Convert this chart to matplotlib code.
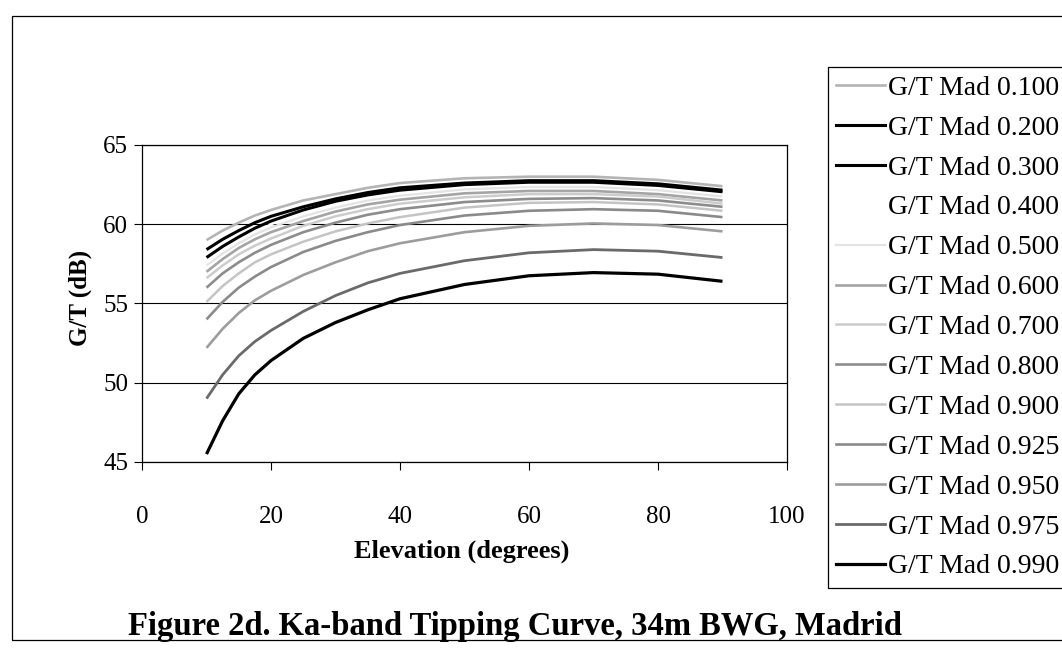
import matplotlib
matplotlib.use("Agg")
import matplotlib.pyplot as plt
from matplotlib.patches import Rectangle
from matplotlib.lines import Line2D

# elevation (degrees) at which values were read
elevation = [10, 12.5, 15, 17.5, 20, 25, 30, 35, 40, 50, 60, 70, 80, 90]

# G/T (dB) curves, one per percentile
gt_0100 = [59.0, 59.6, 60.1, 60.55, 60.9, 61.5, 61.9, 62.3, 62.6, 62.9, 63.0, 63.0, 62.8, 62.4]
gt_0200 = [58.4, 59.05, 59.6, 60.1, 60.5, 61.1, 61.6, 62.0, 62.3, 62.6, 62.75, 62.75, 62.55, 62.15]
gt_0300 = [57.9, 58.6, 59.2, 59.75, 60.2, 60.9, 61.45, 61.85, 62.15, 62.5, 62.65, 62.65, 62.45, 62.05]
gt_0400 = [57.65, 58.4, 59.0, 59.55, 60.0, 60.65, 61.2, 61.65, 61.95, 62.35, 62.5, 62.5, 62.3, 61.9]
gt_0500 = [57.4, 58.15, 58.8, 59.35, 59.8, 60.5, 61.05, 61.5, 61.8, 62.2, 62.35, 62.35, 62.15, 61.75]
gt_0600 = [57.0, 57.8, 58.5, 59.05, 59.5, 60.2, 60.8, 61.25, 61.55, 61.95, 62.1, 62.1, 61.9, 61.5]
gt_0700 = [56.6, 57.4, 58.1, 58.65, 59.1, 59.9, 60.5, 60.95, 61.3, 61.7, 61.9, 61.9, 61.75, 61.3]
gt_0800 = [56.0, 56.9, 57.6, 58.2, 58.7, 59.5, 60.1, 60.6, 60.95, 61.4, 61.6, 61.65, 61.5, 61.1]
gt_0900 = [55.1, 56.1, 56.9, 57.6, 58.1, 58.9, 59.55, 60.05, 60.45, 61.05, 61.35, 61.4, 61.25, 60.85]
gt_0925 = [54.0, 55.1, 56.0, 56.7, 57.3, 58.25, 58.95, 59.5, 59.95, 60.55, 60.85, 60.95, 60.85, 60.45]
gt_0950 = [52.2, 53.4, 54.4, 55.2, 55.8, 56.8, 57.6, 58.3, 58.8, 59.5, 59.9, 60.05, 59.95, 59.55]
gt_0975 = [49.0, 50.5, 51.7, 52.6, 53.3, 54.5, 55.5, 56.3, 56.9, 57.7, 58.2, 58.4, 58.3, 57.9]
gt_0990 = [45.5, 47.6, 49.3, 50.5, 51.4, 52.8, 53.8, 54.6, 55.3, 56.2, 56.75, 56.95, 56.85, 56.4]

labels = ["G/T Mad 0.100", "G/T Mad 0.200", "G/T Mad 0.300", "G/T Mad 0.400",
          "G/T Mad 0.500", "G/T Mad 0.600", "G/T Mad 0.700", "G/T Mad 0.800",
          "G/T Mad 0.900", "G/T Mad 0.925", "G/T Mad 0.950", "G/T Mad 0.975",
          "G/T Mad 0.990"]
series = [gt_0100, gt_0200, gt_0300, gt_0400, gt_0500, gt_0600, gt_0700,
          gt_0800, gt_0900, gt_0925, gt_0950, gt_0975, gt_0990]
colors = ["#b4b4b4", "black", "black", "white", "#e4e4e4", "#a4a4a4", "#cccccc",
          "#8c8c8c", "#c4c4c4", "#8a8a8a", "#9c9c9c", "#6a6a6a", "black"]
widths = [1.9, 2.2, 2.2, 1.6, 1.6, 1.9, 1.8, 1.9, 1.8, 1.9, 1.9, 2.0, 2.3]

plt.rcParams["font.family"] = ["Liberation Serif", "DejaVu Serif"]

W, H = 1062, 652
fig = plt.figure(figsize=(W / 100, H / 100), dpi=100)

# axes placed in pixel terms
x0, x1 = 142, 787
y65, y45 = 145, 462
ax = fig.add_axes([x0 / W, 1 - y45 / H, (x1 - x0) / W, (y45 - y65) / H])

handles = []
for i in range(len(series)):
    z = 1 if colors[i] == "white" else 3
    ax.plot(elevation, series[i], color=colors[i], lw=widths[i],
            solid_capstyle="butt", solid_joinstyle="round", zorder=z)
    handles.append(Line2D([], [], color=colors[i], lw=widths[i]))

ax.set_xlim(0, 100)
ax.set_ylim(45, 65)
ax.set_xticks([0, 20, 40, 60, 80, 100])
ax.set_yticks([45, 50, 55, 60, 65])
ax.yaxis.grid(True, color="black", lw=0.8, zorder=0)
ax.set_axisbelow(True)
for s in ax.spines.values():
    s.set_color("black")
    s.set_linewidth(0.9)
ax.tick_params(axis="x", direction="out", length=6, width=0.8, pad=26, labelsize=18)
ax.tick_params(axis="y", direction="out", length=6, width=0.8, pad=4, labelsize=18)

fig.text(80 / W, 1 - 298 / H, "G/T (dB)", rotation=90, ha="center", va="center",
         fontsize=18, fontweight="bold")
fig.text(462 / W, 1 - 551 / H, "Elevation (degrees)", ha="center", va="center",
         fontsize=19, fontweight="bold")
fig.text(515 / W, 1 - 627 / H, "Figure 2d. Ka-band Tipping Curve, 34m BWG, Madrid",
         ha="center", va="center", fontsize=23.5, fontweight="bold")

# chart area border
fig.patches.append(Rectangle((12 / W, 1 - 640 / H), (W + 20) / W, (640 - 16) / H,
                             transform=fig.transFigure, fill=False,
                             edgecolor="black", lw=0.9))

leg = ax.legend(handles, labels, loc="upper left",
                bbox_to_anchor=(828 / W, 1 - 67 / H), bbox_transform=fig.transFigure,
                frameon=True, fancybox=False, edgecolor="black", framealpha=1,
                fontsize=20, handlelength=1.75, handletextpad=0.1,
                labelspacing=0.52, borderpad=0.3, borderaxespad=0)
leg.get_frame().set_linewidth(0.9)

fig.savefig("out.png", dpi=100)
